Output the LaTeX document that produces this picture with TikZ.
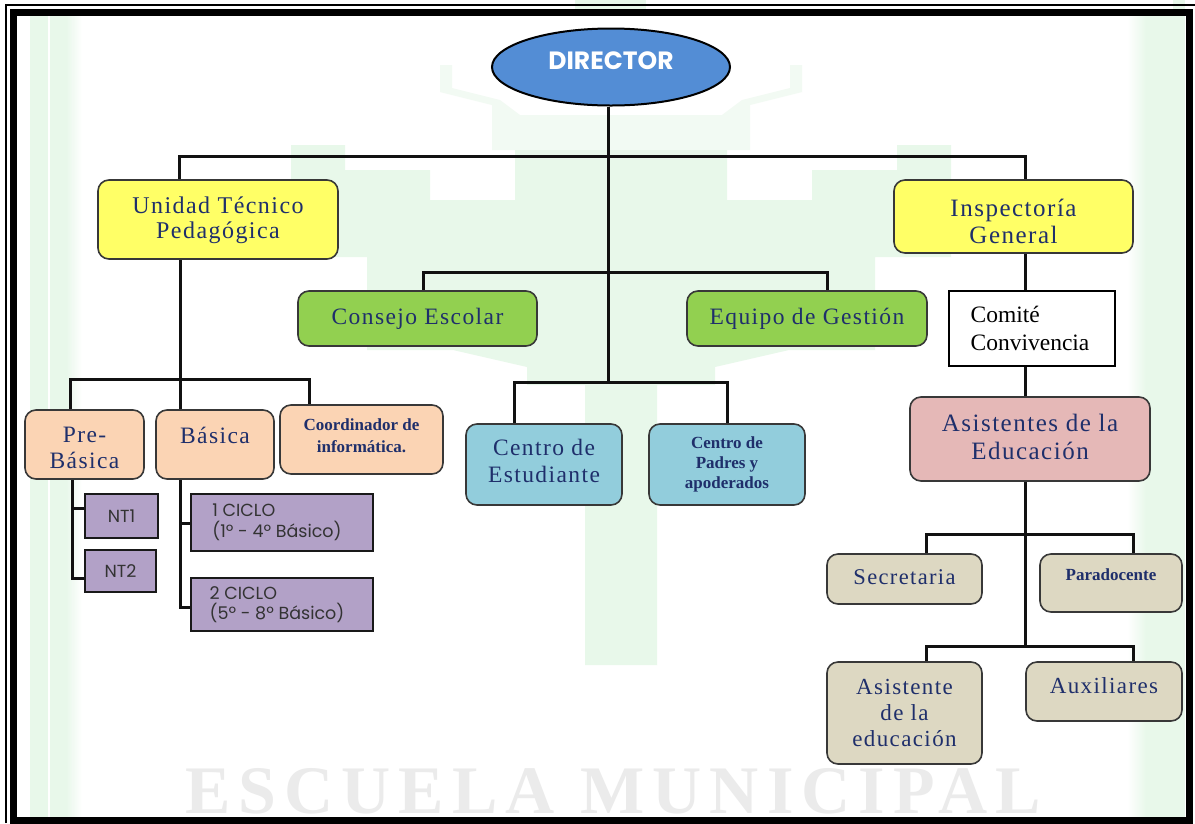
\documentclass[tikz,border=0pt]{standalone}
\usepackage{fontspec}
\usetikzlibrary{shapes.geometric,backgrounds}
\setmainfont{Liberation Serif}
\newfontfamily\rom[LetterSpace=6]{Liberation Serif}
\newfontfamily\romtight{Liberation Serif}
\newfontfamily\wmfont[LetterSpace=12]{Liberation Serif}
\newfontfamily\geo{Poppins}
\definecolor{ink}{HTML}{1F2F6B}
\definecolor{yel}{HTML}{FFFF66}
\definecolor{grn}{HTML}{92D050}
\definecolor{pch}{HTML}{FBD4B4}
\definecolor{cya}{HTML}{92CDDC}
\definecolor{ros}{HTML}{E5B8B7}
\definecolor{tanb}{HTML}{DDD8C2}
\definecolor{pur}{HTML}{B2A1C7}
\definecolor{blu}{HTML}{538DD5}
\definecolor{wash}{HTML}{E8F8EA}
\definecolor{paler}{HTML}{F2FAF3}
\definecolor{ln}{HTML}{111111}
\newcommand{\pad}[1]{\\[#1]\mbox{}}
\tikzset{
  x=1pt,y=-1pt,
  rbox/.style={draw=black!78,line width=1.6pt,rounded corners=11pt,align=center,inner sep=0pt,text=ink,font=\rom\fontsize{23.5}{26}\selectfont},
  smalltxt/.style={font=\romtight\bfseries\fontsize{17}{#1}\selectfont},
  sbox/.style={draw=black!90,line width=1.5pt,align=left,inner sep=0pt,text=black!80,font=\geo\fontsize{17.5}{20.5}\selectfont},
  plainbox/.style={draw=black,line width=1.5pt,align=left,inner sep=0pt,text=black,font=\romtight\fontsize{23.5}{28}\selectfont},
  conn/.style={draw=ln,line width=3pt,line join=miter},
}
\newcommand{\bx}[7]{\node[#2,fill=#3,minimum width={(#6-#4)*1pt},minimum height={(#7-#5)*1pt}] (#1) at ({(#4+#6)/2},{(#5+#7)/2})}
\begin{document}
\begin{tikzpicture}
\useasboundingbox (0,0) rectangle (1195,823);
% junctions
\coordinate (jtop) at (608,156);
\coordinate (jtopl) at (179,156);
\coordinate (jtopr) at (1025,156);
\coordinate (jmid) at (608,272);
\coordinate (jmidl) at (423,272);
\coordinate (jmidr) at (827,272);
\coordinate (jlow) at (608,382);
\coordinate (jlowl) at (514,382);
\coordinate (jlowr) at (727,382);
\coordinate (jutp) at (180,379);
\coordinate (jutpl) at (70,379);
\coordinate (jutpr) at (309,379);
\coordinate (jpre) at (72,508);
\coordinate (jpreb) at (72,578);
\coordinate (jbas) at (180,523);
\coordinate (jbasb) at (180,607);
\coordinate (jasi) at (1025,534);
\coordinate (jasil) at (926,534);
\coordinate (jasir) at (1133,534);
\coordinate (jasb) at (1025,646);
\coordinate (jasbl) at (926,646);
\coordinate (jasbr) at (1133,646);
% nodes
\node[draw=black,line width=2pt,fill=blu,ellipse,minimum width=238pt,minimum height=77pt,inner sep=0pt,align=center,text=white,font=\geo\bfseries\fontsize{25}{24}\selectfont] (dir) at (611,67) {DIRECTOR\pad{-11pt}};
\bx{uni}{rbox,font=\rom\fontsize{24}{25.5}\selectfont}{yel}{98}{180}{338}{259} {Unidad Técnico\\Pedagógica\pad{-22pt}};
\bx{ins}{rbox,font=\rom\fontsize{25}{27}\selectfont}{yel}{894}{180}{1133}{253} {\mbox{}\\[0pt]Inspectoría\\General};
\bx{con}{rbox}{grn}{298}{291}{537}{346} {Consejo Escolar\pad{-22pt}};
\bx{equ}{rbox}{grn}{687}{291}{927}{346} {Equipo de Gestión\pad{-22pt}};
\bx{com}{plainbox}{white}{949}{291}{1115}{366} {Comité\\Convivencia\hspace*{4pt}};
\bx{pre}{rbox}{pch}{25}{410}{144}{479} {\mbox{}\\[-4pt]Pre-\\Básica};
\bx{bas}{rbox}{pch}{156}{410}{274}{479} {\mbox{}\\[-2pt]Básica\\\mbox{}};
\bx{coo}{rbox,smalltxt=22}{pch}{280}{405}{443}{474} {Coordinador de\\informática.\hspace*{27pt}\pad{-14pt}};
\bx{est}{rbox,font=\rom\fontsize{23.5}{27}\selectfont}{cya}{466}{424}{622}{505} {Centro de\\Estudiante\pad{-19pt}};
\bx{pad}{rbox,smalltxt=20}{cya}{649}{424}{805}{505} {Centro de\\Padres y\\apoderados};
\bx{asi}{rbox,font=\rom\fontsize{25}{28}\selectfont}{ros}{910}{397}{1150}{481} {Asistentes de la\\Educación\pad{-24pt}};
\bx{sec}{rbox,font=\rom\fontsize{22.5}{24}\selectfont}{tanb}{827}{554}{982}{604} {Secretaria\pad{-20pt}};
\bx{par}{rbox,smalltxt=20}{tanb}{1040}{554}{1182}{612} {Paradocente\pad{-4pt}};
\bx{ase}{rbox,font=\rom\fontsize{23}{26}\selectfont}{tanb}{827}{662}{982}{764} {Asistente\\de la\\educación};
\bx{aux}{rbox,font=\rom\fontsize{23}{24}\selectfont}{tanb}{1026}{662}{1182}{721} {Auxiliares\pad{-12pt}};
\bx{nta}{sbox}{pur}{85}{494}{158}{538} {NT1};
\bx{ntb}{sbox}{pur}{85}{550}{156}{592} {NT2};
\bx{cia}{sbox}{pur}{191}{494}{373}{551} {1 CICLO\\(1º - 4º Básico)\hspace*{10pt}};
\bx{cib}{sbox}{pur}{191}{578}{373}{631} {2 CICLO\\(5º - 8º Básico)\hspace*{10pt}};
\begin{scope}[on background layer]
\fill[white] (0,0) rectangle (1195,823);
% watermark
\fill[wash] (30,16) rectangle (66,823);
\shade[left color=wash,right color=white] (66,16) rectangle (82,823);
\fill[white] (48,16) rectangle (50,823);
\fill[paler] (72,16) rectangle (74,823);
\shade[left color=white,right color=wash] (1127,16) rectangle (1146,823);
\fill[wash] (1146,16) rectangle (1185,823);
\fill[wash] (1173,0) rectangle (1185,13);
\fill[wash] (575,0) rectangle (646,13);
\fill[paler] (492,150) -- (492,105) -- (440,92) -- (440,65) -- (452,65) -- (452,88) -- (500,100) -- (520,115) -- (722,115) -- (742,100) -- (790,88) -- (790,65) -- (802,65) -- (802,92) -- (750,105) -- (750,150) -- cycle;
\fill[wash] (585,665) -- (585,385) -- (527,385) -- (527,367) -- (453,350) -- (367,350) -- (367,257) -- (291,257) -- (291,145) -- (345,145) -- (345,170) -- (430,170) -- (430,200) -- (515,200) -- (515,150) -- (727,150) -- (727,200) -- (812,200) -- (812,170) -- (897,170) -- (897,145) -- (951,145) -- (951,257) -- (875,257) -- (875,350) -- (789,350) -- (715,367) -- (715,385) -- (657,385) -- (657,665) -- cycle;
\node[text=black!8,font=\wmfont\bfseries\fontsize{68}{68}\selectfont,anchor=base,inner sep=0pt] (wmark) at (613,813) {ESCUELA MUNICIPAL};
% frames
\draw[black,line width=1.6pt] (6,823) -- (6,5) -- (1195,5);
\draw[black,line width=7pt] (13.5,12) rectangle (1189,820);
% connectors
\draw[conn] (dir.south -| jtop) -- (jlow);
\draw[conn] (jtopl |- uni.north) -- (jtopl) -- (jtopr) -- (jtopr |- ins.north);
\draw[conn] (jmidl |- con.north) -- (jmidl) -- (jmidr) -- (jmidr |- equ.north);
\draw[conn] (jlowl |- est.north) -- (jlowl) -- (jlowr) -- (jlowr |- pad.north);
\draw[conn] (jutp |- uni.south) -- (jutp |- bas.north);
\draw[conn] (jutpl |- pre.north) -- (jutpl) -- (jutpr) -- (jutpr |- coo.north);
\draw[conn] (jpre |- pre.south) -- (jpreb) -- (jpreb -| ntb.west);
\draw[conn] (jpre) -- (jpre -| nta.west);
\draw[conn] (jbas |- bas.south) -- (jbasb) -- (jbasb -| cib.west);
\draw[conn] (jbas) -- (jbas -| cia.west);
\draw[conn] (jtopr |- ins.south) -- (jtopr |- com.north);
\draw[conn] (jtopr |- com.south) -- (jtopr |- asi.north);
\draw[conn] (jasi |- asi.south) -- (jasb);
\draw[conn] (jasil |- sec.north) -- (jasil) -- (jasir) -- (jasir |- par.north);
\draw[conn] (jasbl |- ase.north) -- (jasbl) -- (jasbr) -- (jasbr |- aux.north);
\end{scope}
\end{tikzpicture}
\end{document}
